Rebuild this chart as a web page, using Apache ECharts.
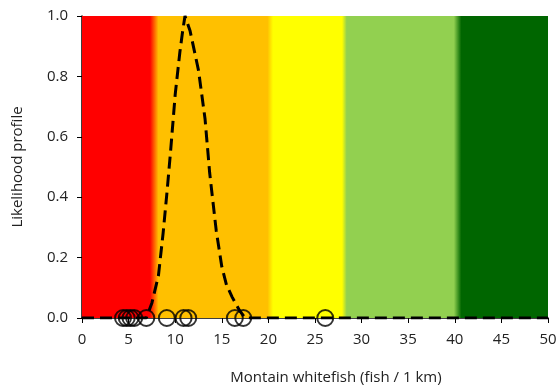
<!DOCTYPE html>
<html>
<head>
<meta charset="utf-8">
<script src="https://cdn.jsdelivr.net/npm/echarts@6/dist/echarts.min.js"></script>
<style>html,body{margin:0;padding:0;background:#fff}#c{width:559px;height:387px}</style>
</head>
<body>
<div id="c"></div>
<script>
// Likelihood profile curve (x = fish / 1 km, y = likelihood)
const curveX = [0, 6.9, 7.5, 8.2, 8.7, 9.1, 9.5, 10.0, 10.5, 10.8, 11.05, 11.6, 12.5, 13.2, 13.7, 14.4, 15.0, 15.5, 16.1, 16.9, 17.5, 50];
const curveY = [0, 0, 0.05, 0.14, 0.28, 0.41, 0.55, 0.74, 0.88, 0.95, 1.0, 0.95, 0.82, 0.66, 0.48, 0.29, 0.17, 0.11, 0.07, 0.025, 0, 0];
// Observed densities (circles on the x axis)
const obsX = [4.4, 4.8, 5.2, 5.6, 6.9, 9.1, 10.9, 11.4, 16.4, 17.3, 26.1];
const obsY = [0, 0, 0, 0, 0, 0, 0, 0, 0, 0, 0];
// Background bands: colours and transition boundaries [start, end] on x
const bandColors = ['#FF0000', '#FFC000', '#FFFF00', '#92D050', '#006600'];
const bandEdges = [[7.3, 8.2], [19.9, 20.5], [27.9, 28.4], [39.9, 40.7]];
const xTicks = [0, 5, 10, 15, 20, 25, 30, 35, 40, 45, 50];
const yTicks = [0, 0.2, 0.4, 0.6, 0.8, 1.0];

const xMax = 50;
const stops = [{offset: 0, color: bandColors[0]}];
bandEdges.forEach((e, i) => {
  stops.push({offset: e[0] / xMax, color: bandColors[i]});
  stops.push({offset: e[1] / xMax, color: bandColors[i + 1]});
});
stops.push({offset: 1, color: bandColors[bandColors.length - 1]});

const font = 'Open Sans';
const chart = echarts.init(document.getElementById('c'));
chart.setOption({
  animation: false,
  grid: {left: 82, right: 11, top: 16, bottom: 69, containLabel: false, outerBoundsMode: 'none'},
  xAxis: {
    type: 'value', min: 0, max: 50, interval: 5,
    name: 'Montain whitefish (fish / 1 km)', nameLocation: 'middle', nameGap: 52,
    nameTextStyle: {fontFamily: font, fontSize: 15, color: '#222', padding: [0, 0, 0, 42]},
    axisLine: {show: true, lineStyle: {color: '#000', width: 1.5}},
    axisTick: {show: true, length: 5, lineStyle: {color: '#000'}},
    axisLabel: {fontFamily: font, fontSize: 15, color: '#222', margin: 14},
    splitLine: {show: false}
  },
  yAxis: {
    type: 'value', min: 0, max: 1, interval: 0.2,
    name: 'Likelihood profile', nameLocation: 'middle', nameGap: 57,
    nameTextStyle: {fontFamily: font, fontSize: 15, color: '#222'},
    axisLine: {show: true, lineStyle: {color: '#000', width: 1.5}},
    axisTick: {show: true, length: 5, lineStyle: {color: '#000'}},
    axisLabel: {fontFamily: font, fontSize: 15, color: '#222', margin: 14, formatter: v => v.toFixed(1)},
    splitLine: {show: false}
  },
  series: [
    {
      type: 'line',
      data: curveX.map((x, i) => [x, curveY[i]]),
      showSymbol: false, smooth: false,
      lineStyle: {color: '#000', width: 3, type: [12, 6]},
      z: 3,
      markArea: {
        silent: true,
        itemStyle: {color: new echarts.graphic.LinearGradient(0, 0, 1, 0, stops)},
        data: [[{coord: [0, 0]}, {coord: [50, 1]}]]
      }
    },
    {
      type: 'scatter',
      data: obsX.map((x, i) => [x, obsY[i]]),
      symbol: 'circle', symbolSize: 16, clip: false,
      itemStyle: {color: 'rgba(0,0,0,0)', borderColor: '#000', borderWidth: 2},
      z: 4
    }
  ]
});
</script>
</body>
</html>
